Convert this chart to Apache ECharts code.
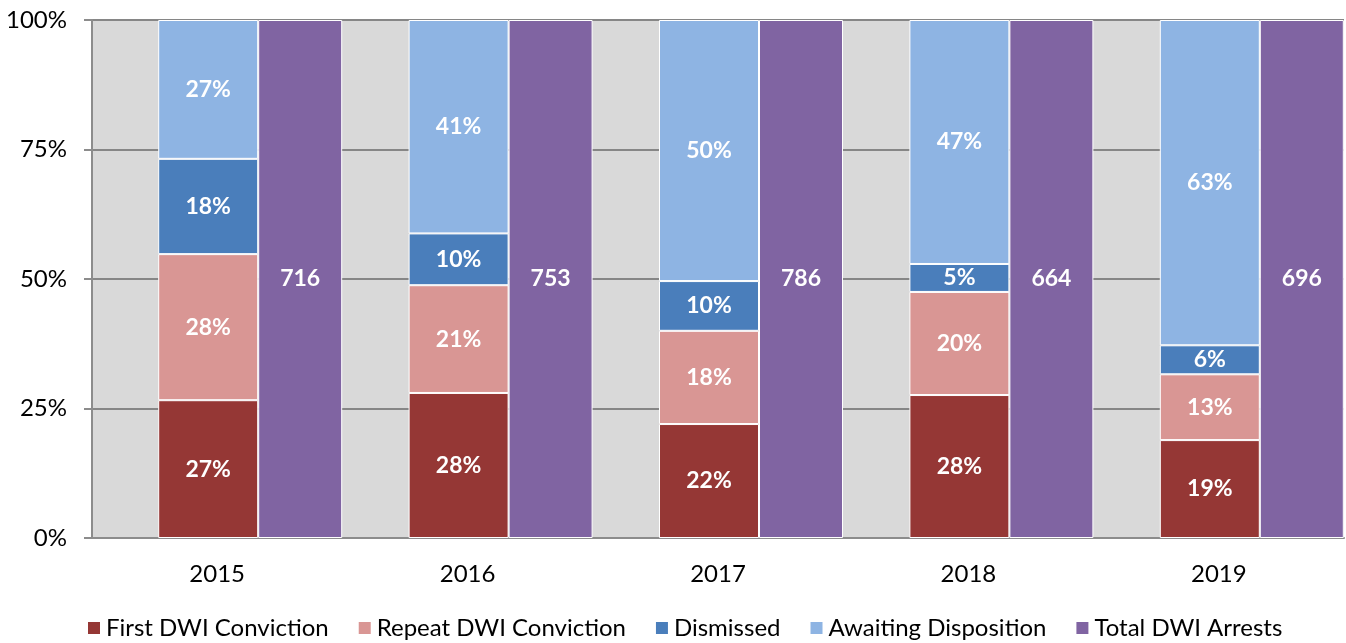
<!DOCTYPE html>
<html>
<head>
<meta charset="utf-8">
<script src="https://cdn.jsdelivr.net/npm/echarts@6/dist/echarts.min.js"></script>
<style>
  html, body { margin: 0; padding: 0; background: #fff; }
  #chart { width: 1346px; height: 643px; }
</style>
</head>
<body>
<div id="chart"></div>
<script>
const years = ['2015', '2016', '2017', '2018', '2019']
const firstConviction = [26.6, 28.0, 22.0, 27.6, 18.9]
const repeatConviction = [28.2, 20.8, 18.0, 19.9, 12.7]
const dismissed = [18.4, 10.0, 9.6, 5.4, 5.6]
const awaiting = [26.8, 41.2, 50.4, 47.1, 62.8]
const totalShare = [100, 100, 100, 100, 100]
const totalArrests = [716, 753, 786, 664, 696]
const yTicks = [0, 25, 50, 75, 100]

const font = 'Lato, "Open Sans", sans-serif'
const myChart = echarts.init(document.getElementById('chart'))

const pctLabel = {
  show: true,
  color: '#ffffff',
  fontFamily: font,
  fontWeight: 'bold',
  fontSize: 23,
  formatter: p => Math.round(p.value) + '%'
}
const border = { borderColor: '#ffffff', borderWidth: 1 }

function stackSeries(name, data, color) {
  return {
    name: name,
    type: 'bar',
    stack: 'share',
    barWidth: 100,
    data: data,
    itemStyle: Object.assign({ color: color }, border),
    label: pctLabel
  }
}

const option = {
  animation: false,
  grid: {
    left: 92,
    right: 2,
    top: 20,
    bottom: 105,
    show: true,
    backgroundColor: '#d9d9d9',
    borderWidth: 0
  },
  legend: {
    bottom: -2,
    left: 81,
    data: ['First DWI Conviction', 'Repeat DWI Conviction', 'Dismissed', 'Awaiting Disposition', 'Total DWI Arrests'],
    icon: 'rect',
    itemWidth: 14,
    itemHeight: 14,
    itemGap: 28,
    textStyle: { fontFamily: font, fontSize: 24, color: '#000000' }
  },
  xAxis: {
    type: 'category',
    data: years,
    axisLine: { lineStyle: { color: '#8c8c8c', width: 2 } },
    axisTick: { show: false },
    axisLabel: { fontFamily: font, fontSize: 24, color: '#000000', margin: 24 }
  },
  yAxis: {
    type: 'value',
    min: yTicks[0],
    max: yTicks[yTicks.length - 1],
    interval: 25,
    axisLine: { show: true, lineStyle: { color: '#8c8c8c', width: 2 } },
    axisTick: { show: true, length: 8, lineStyle: { color: '#8c8c8c', width: 2 } },
    axisLabel: { fontFamily: font, fontSize: 24, color: '#000000', margin: 25, formatter: '{value}%' },
    splitLine: { lineStyle: { color: '#868686', width: 2 } }
  },
  series: [
    {
      name: 'spacer',
      type: 'bar',
      barWidth: 66,
      data: years.map(() => '-'),
      itemStyle: { color: 'transparent' },
      silent: true
    },
    stackSeries('First DWI Conviction', firstConviction, '#953735'),
    stackSeries('Repeat DWI Conviction', repeatConviction, '#d99694'),
    stackSeries('Dismissed', dismissed, '#4a7ebb'),
    stackSeries('Awaiting Disposition', awaiting, '#8eb4e3'),
    {
      name: 'Total DWI Arrests',
      type: 'bar',
      barWidth: 84,
      barGap: 0,
      data: totalShare,
      itemStyle: Object.assign({ color: '#8064a2' }, border),
      label: {
        show: true,
        color: '#ffffff',
        fontFamily: font,
        fontWeight: 'bold',
        fontSize: 23,
        formatter: p => totalArrests[p.dataIndex]
      }
    }
  ]
}
myChart.setOption(option)

window.addEventListener('resize', () => {
  myChart.resize()
})
</script>
</body>
</html>
